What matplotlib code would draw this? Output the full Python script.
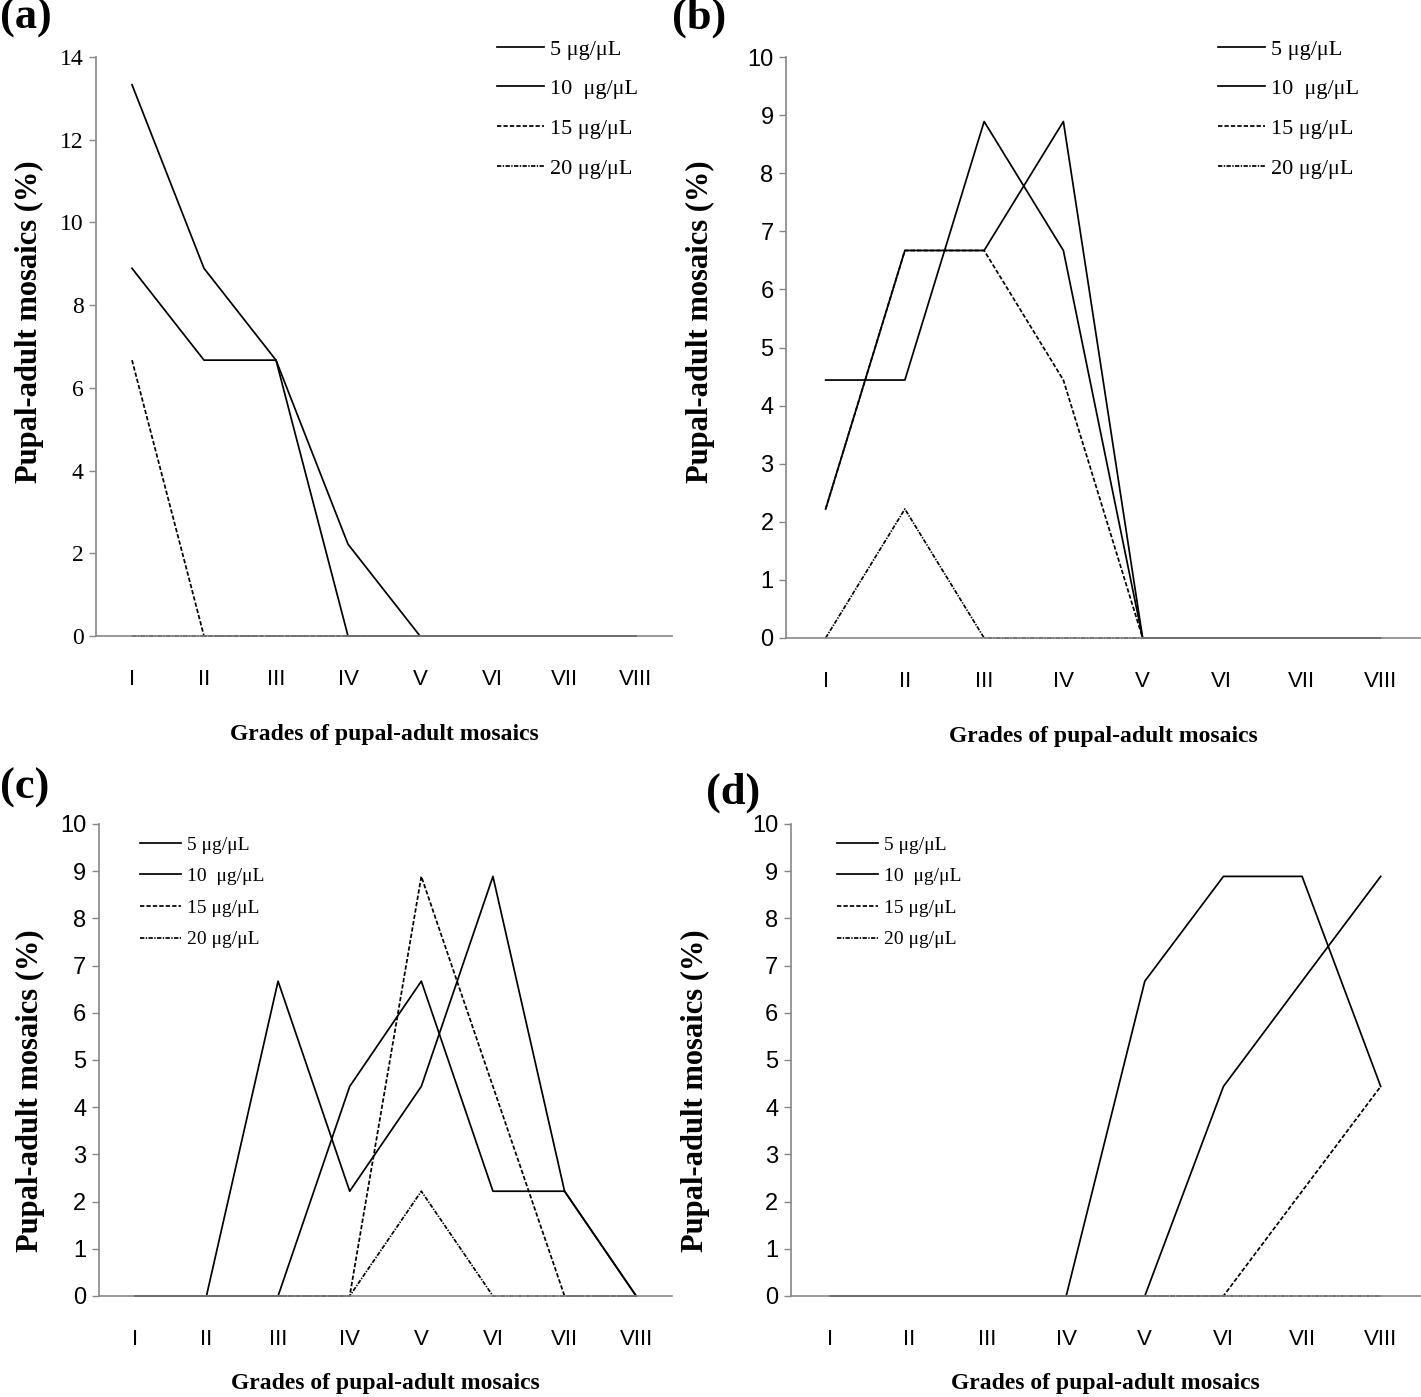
import matplotlib.pyplot as plt

grades = ["I", "II", "III", "IV", "V", "VI", "VII", "VIII"]
doses = ["5 μg/μL", "10  μg/μL", "15 μg/μL", "20 μg/μL"]

# panel (a)
a_5 = [13.33, 8.89, 6.67, 2.22, 0, 0, 0, 0]
a_10 = [8.89, 6.67, 6.67, 0, 0, 0, 0, 0]
a_15 = [6.67, 0, 0, 0, 0, 0, 0, 0]
a_20 = [0, 0, 0, 0, 0, 0, 0, 0]

# panel (b)
b_5 = [2.22, 6.67, 6.67, 8.89, 0, 0, 0, 0]
b_10 = [4.44, 4.44, 8.89, 6.67, 0, 0, 0, 0]
b_15 = [2.22, 6.67, 6.67, 4.44, 0, 0, 0, 0]
b_20 = [0, 2.22, 0, 0, 0, 0, 0, 0]

# panel (c)
c_5 = [0, 0, 6.67, 2.22, 4.44, 8.89, 2.22, 0]
c_10 = [0, 0, 0, 4.44, 6.67, 2.22, 2.22, 0]
c_15 = [0, 0, 0, 0, 8.89, 4.44, 0, 0]
c_20 = [0, 0, 0, 0, 2.22, 0, 0, 0]

# panel (d)
d_5 = [0, 0, 0, 0, 6.67, 8.89, 8.89, 4.44]
d_10 = [0, 0, 0, 0, 0, 4.44, 6.67, 8.89]
d_15 = [0, 0, 0, 0, 0, 0, 2.22, 4.44]
d_20 = [0, 0, 0, 0, 0, 0, 0, 0]

W, H = 1421, 1397
fig = plt.figure(figsize=(W / 100, H / 100), dpi=100)

serif = ["Liberation Serif", "DejaVu Serif"]
narrow = ["Liberation Sans Narrow", "Liberation Sans", "DejaVu Sans"]
grey = "#868686"

panels = [
    # letter, series, box (left, right, top, bottom px), ymax, ystep, ytick font,
    # legend top-left px, legend size, legend spacing, letter px, ylabel coords, xlabel pad
    ("(a)", [a_5, a_10, a_15, a_20], (96, 672, 57, 636), 14, 2, serif,
     (497, 39), 16, 0.86, (0, -2), (-0.090, 0.542), 24),
    ("(b)", [b_5, b_10, b_15, b_20], (786, 1420, 57, 638), 10, 1, narrow,
     (1218, 39), 16, 0.86, (672, -2), (-0.112, 0.544), 24),
    ("(c)", [c_5, c_10, c_15, c_20], (99, 672, 824, 1296), 10, 1, narrow,
     (140, 836), 14, 0.72, (0, 768), (-0.094, 0.436), 16),
    ("(d)", [d_5, d_10, d_15, d_20], (791, 1420, 824, 1296), 10, 1, narrow,
     (837, 836), 14, 0.72, (706, 773), (-0.129, 0.436), 16),
]

styles = [
    dict(linestyle="-"),
    dict(linestyle="-"),
    dict(linestyle=(0, (2.5, 1.2))),
    dict(linestyle=(0, (2.5, 0.8, 0.8, 0.8))),
]

x = list(range(len(grades)))

for letter, series, box, ymax, ystep, yfont, leg, legsize, legspace, lpos, ylpos, xpad in panels:
    l, r, t, b = box
    ax = fig.add_axes([l / W, (H - b) / H, (r - l) / W, (b - t) / H])
    for vals, lab, st in zip(series, doses, styles):
        ax.plot(x, vals, color="black", lw=1.25, label=lab, clip_on=False, **st)
    ax.set_xlim(-0.5, 7.5)
    ax.set_ylim(0, ymax)
    ax.set_yticks(range(0, ymax + 1, ystep))
    ax.set_xticks(x)
    ax.set_xticklabels(grades, family=narrow, fontsize=16)
    for lbl in ax.get_yticklabels():
        lbl.set_family(yfont)
        lbl.set_fontsize(17)
    ax.tick_params(axis="y", length=5, width=1, color=grey, pad=4, direction="out")
    ax.tick_params(axis="x", length=0, pad=24)
    for s in ["top", "right"]:
        ax.spines[s].set_visible(False)
    for s in ["left", "bottom"]:
        ax.spines[s].set_color(grey)
        ax.spines[s].set_linewidth(1.2)

    ax.set_xlabel("Grades of pupal-adult mosaics", family=serif, fontweight="bold",
                  fontsize=17, labelpad=xpad)
    ax.set_ylabel("Pupal-adult mosaics (%)", family=serif, fontweight="bold",
                  fontsize=22)
    ax.yaxis.set_label_coords(*ylpos)

    lx, ly = leg
    ax.legend(loc="upper left",
              bbox_to_anchor=((lx - l) / (r - l), (b - ly) / (b - t)),
              frameon=False, borderpad=0, borderaxespad=0,
              handlelength=2.1, handletextpad=0.3, labelspacing=legspace,
              prop=dict(family=serif, size=legsize))

    fig.text(lpos[0] / W, 1 - lpos[1] / H, letter, family=serif, fontweight="bold",
             fontsize=32, ha="left", va="top")

fig.savefig("out.png", dpi=100)
